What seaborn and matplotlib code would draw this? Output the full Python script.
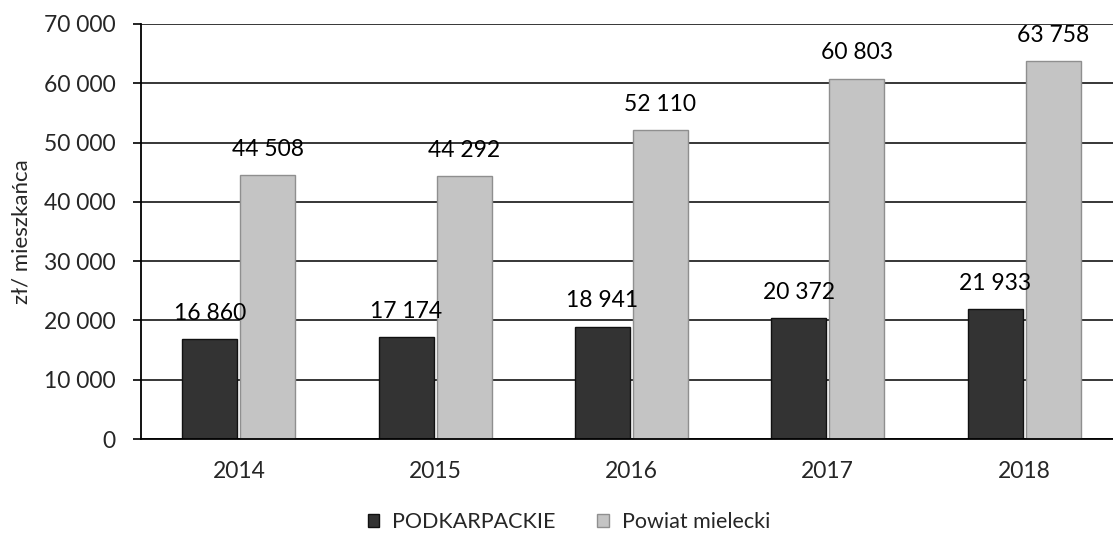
import seaborn as sns
import matplotlib.pyplot as plt
import pandas as pd

# values (zł per inhabitant)
years = ['2014', '2015', '2016', '2017', '2018']
podkarpackie = [16860, 17174, 18941, 20372, 21933]
powiat = [44508, 44292, 52110, 60803, 63758]
series_names = ['PODKARPACKIE', 'Powiat mielecki']
yticks = [0, 10000, 20000, 30000, 40000, 50000, 60000, 70000]


def fmt(v):
    return '{:,}'.format(int(v)).replace(',', ' ')


df = pd.DataFrame({
    'rok': years * 2,
    'wartosc': podkarpackie + powiat,
    'seria': [series_names[0]] * len(years) + [series_names[1]] * len(years),
})

sns.set_style('white')
plt.rcParams['font.family'] = ['Lato', 'DejaVu Sans']

fig = plt.figure(figsize=(11.13, 5.39), dpi=100)
ax = fig.add_axes([0.1264, 0.1855, 0.8819, 0.77])

palette = {series_names[0]: '#333333', series_names[1]: '#c4c4c4'}
sns.barplot(data=df, x='rok', y='wartosc', hue='seria', palette=palette,
            width=0.59, gap=0.05, saturation=1, ax=ax, legend=False)

edges = ['#111111', '#8f8f8f']
for cont, ec in zip(ax.containers, edges):
    for p in cont.patches:
        p.set_edgecolor(ec)
        p.set_linewidth(1.0)
    ax.bar_label(cont, labels=[fmt(v) for v in cont.datavalues],
                 padding=11, fontsize=16.5, color='black')

ax.set_ylim(0, 70000)
ax.set_xlim(-0.5, len(years) - 0.5)
ax.set_yticks(yticks)
ax.set_yticklabels([fmt(v) for v in yticks], fontsize=16.5)
ax.yaxis.grid(True, color='black', linewidth=1.1)
ax.set_axisbelow(True)

# ticks between categories, labels at the centres
ax.set_xticks([i + 0.5 for i in range(len(years) - 1)], minor=True)
ax.tick_params(axis='x', which='minor', length=6, width=1.2, color='black', direction='out')
ax.tick_params(axis='x', which='major', length=0, pad=16, labelsize=16.5)
ax.tick_params(axis='y', length=6, width=1.2, color='black', direction='out', pad=12,
               left=True)

for side in ['top', 'right']:
    ax.spines[side].set_visible(False)
for side in ['left', 'bottom']:
    ax.spines[side].set_color('black')
    ax.spines[side].set_linewidth(1.3)

ax.set_xlabel('')
ax.set_ylabel('zł/ mieszkańca', fontsize=16, labelpad=9)

handles = [plt.Rectangle((0, 0), 1, 1, facecolor=palette[n], edgecolor=e)
           for n, e in zip(series_names, edges)]
fig.legend(handles, series_names, loc='center', bbox_to_anchor=(0.511, 0.032), ncol=2,
           frameon=False, fontsize=15.5, handlelength=0.55, handleheight=0.55,
           handletextpad=0.6, columnspacing=1.9)

fig.savefig('out.png', dpi=100)
